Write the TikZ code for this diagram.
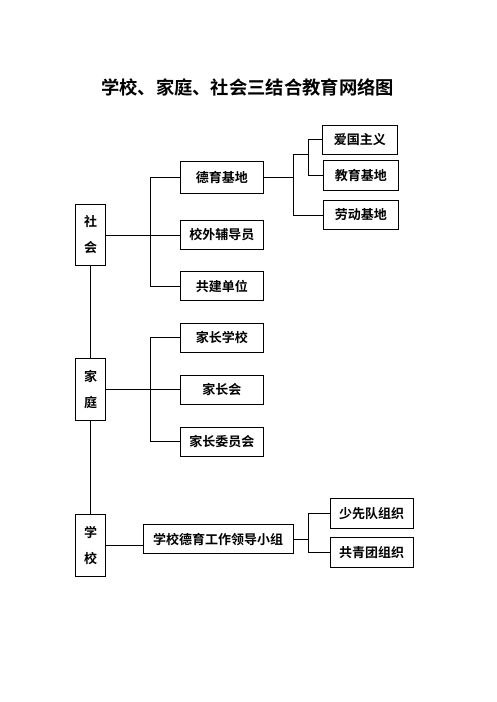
\documentclass[tikz,border=0pt]{standalone}
\usepackage{fontspec}
\newfontfamily\cjk{Noto Sans CJK SC}[BoldFont={Noto Sans CJK SC Bold}]
\usetikzlibrary{positioning,calc}
\tikzset{
  box/.style   = {draw, line width=0.9pt, fill=white, inner sep=0pt,
                  minimum height=29pt, font=\cjk\bfseries\fontsize{13}{15}\selectfont},
  item/.style  = {box, minimum width=83pt},
  sub/.style   = {box, minimum width=75pt},
  side/.style  = {box, minimum width=30.4pt, minimum height=61.5pt, align=center,
                  font=\cjk\bfseries\fontsize{13}{26}\selectfont},
  wire/.style  = {line width=0.9pt},
}

\begin{document}
\begin{tikzpicture}[x=1pt,y=-1pt]
  \useasboundingbox (0,0) rectangle (496,702);
  \node[font=\cjk\bfseries\fontsize{18.3}{22}\selectfont] (title) at (247.5,87)
    {学校、家庭、社会三结合教育网络图};

  % left column
  \node[side] (soc) at (90.5,235)   {社\\会};
  \node[side] (fam) at (90.5,389.5) {家\\庭};
  \node[side] (sch) at (90.5,545.5) {学\\校};

  % society branch
  \node[item, minimum height=32pt] (deyu) at (221.8,177) {德育基地};
  \node[item] (xiaowai)  at (221.8,235)   {校外辅导员};
  \node[item] (gongjian) at (221.8,286)   {共建单位};
  \node[sub] (aiguo)   at (359.8,139.8) {爱国主义};
  \node[sub, minimum height=30pt] (jiaoyu)  at (360.8,175.3) {教育基地};
  \node[sub] (laodong) at (360.8,215)   {劳动基地};

  % family branch
  \node[item] (jzxx)  at (221.8,337.8) {家长学校};
  \node[item] (jzh)   at (221.8,389.5) {家长会};
  \node[item] (jzwyh) at (221.8,441.8) {家长委员会};

  % school branch
  \node[box, minimum width=150.3pt] (lead) at (218.2,539.2) {学校德育工作领导小组};
  \node[box, minimum width=83.3pt, minimum height=30pt] (sxd) at (371.7,513.3) {少先队组织};
  \node[box, minimum width=83.3pt, minimum height=30pt] (gqt) at (371.7,552.3) {共青团组织};

  \coordinate (b1) at (150.7,235);
  \coordinate (b2) at (150.7,389.5);
  \coordinate (c1) at (293.3,154.3);
  \coordinate (c2) at (308.3,154.3);
  \coordinate (c3) at (308.3,540);

  \draw[wire] (soc.south) -- (fam.north);
  \draw[wire] (fam.south) -- (sch.north);

  \draw[wire] (soc.east) -- (xiaowai.west);
  \draw[wire] (deyu.west) -| (b1) |- (gongjian.west);
  \draw[wire] (deyu.east) -- (deyu.east -| c1);
  \draw[wire] (c1) |- (laodong.west);
  \draw[wire] (c1) -- (c2);
  \draw[wire] (aiguo.west) -| (c2) |- (jiaoyu.west);

  \draw[wire] (fam.east) -- (jzh.west);
  \draw[wire] (jzxx.west) -| (b2) |- (jzwyh.west);

  \draw[wire] (sch.east) -- (sch.east -| lead.west);
  \draw[wire] (lead.east) -- (lead.east -| c3);
  \draw[wire] (sxd.west) -| (c3) |- (gqt.west);
\end{tikzpicture}
\end{document}
